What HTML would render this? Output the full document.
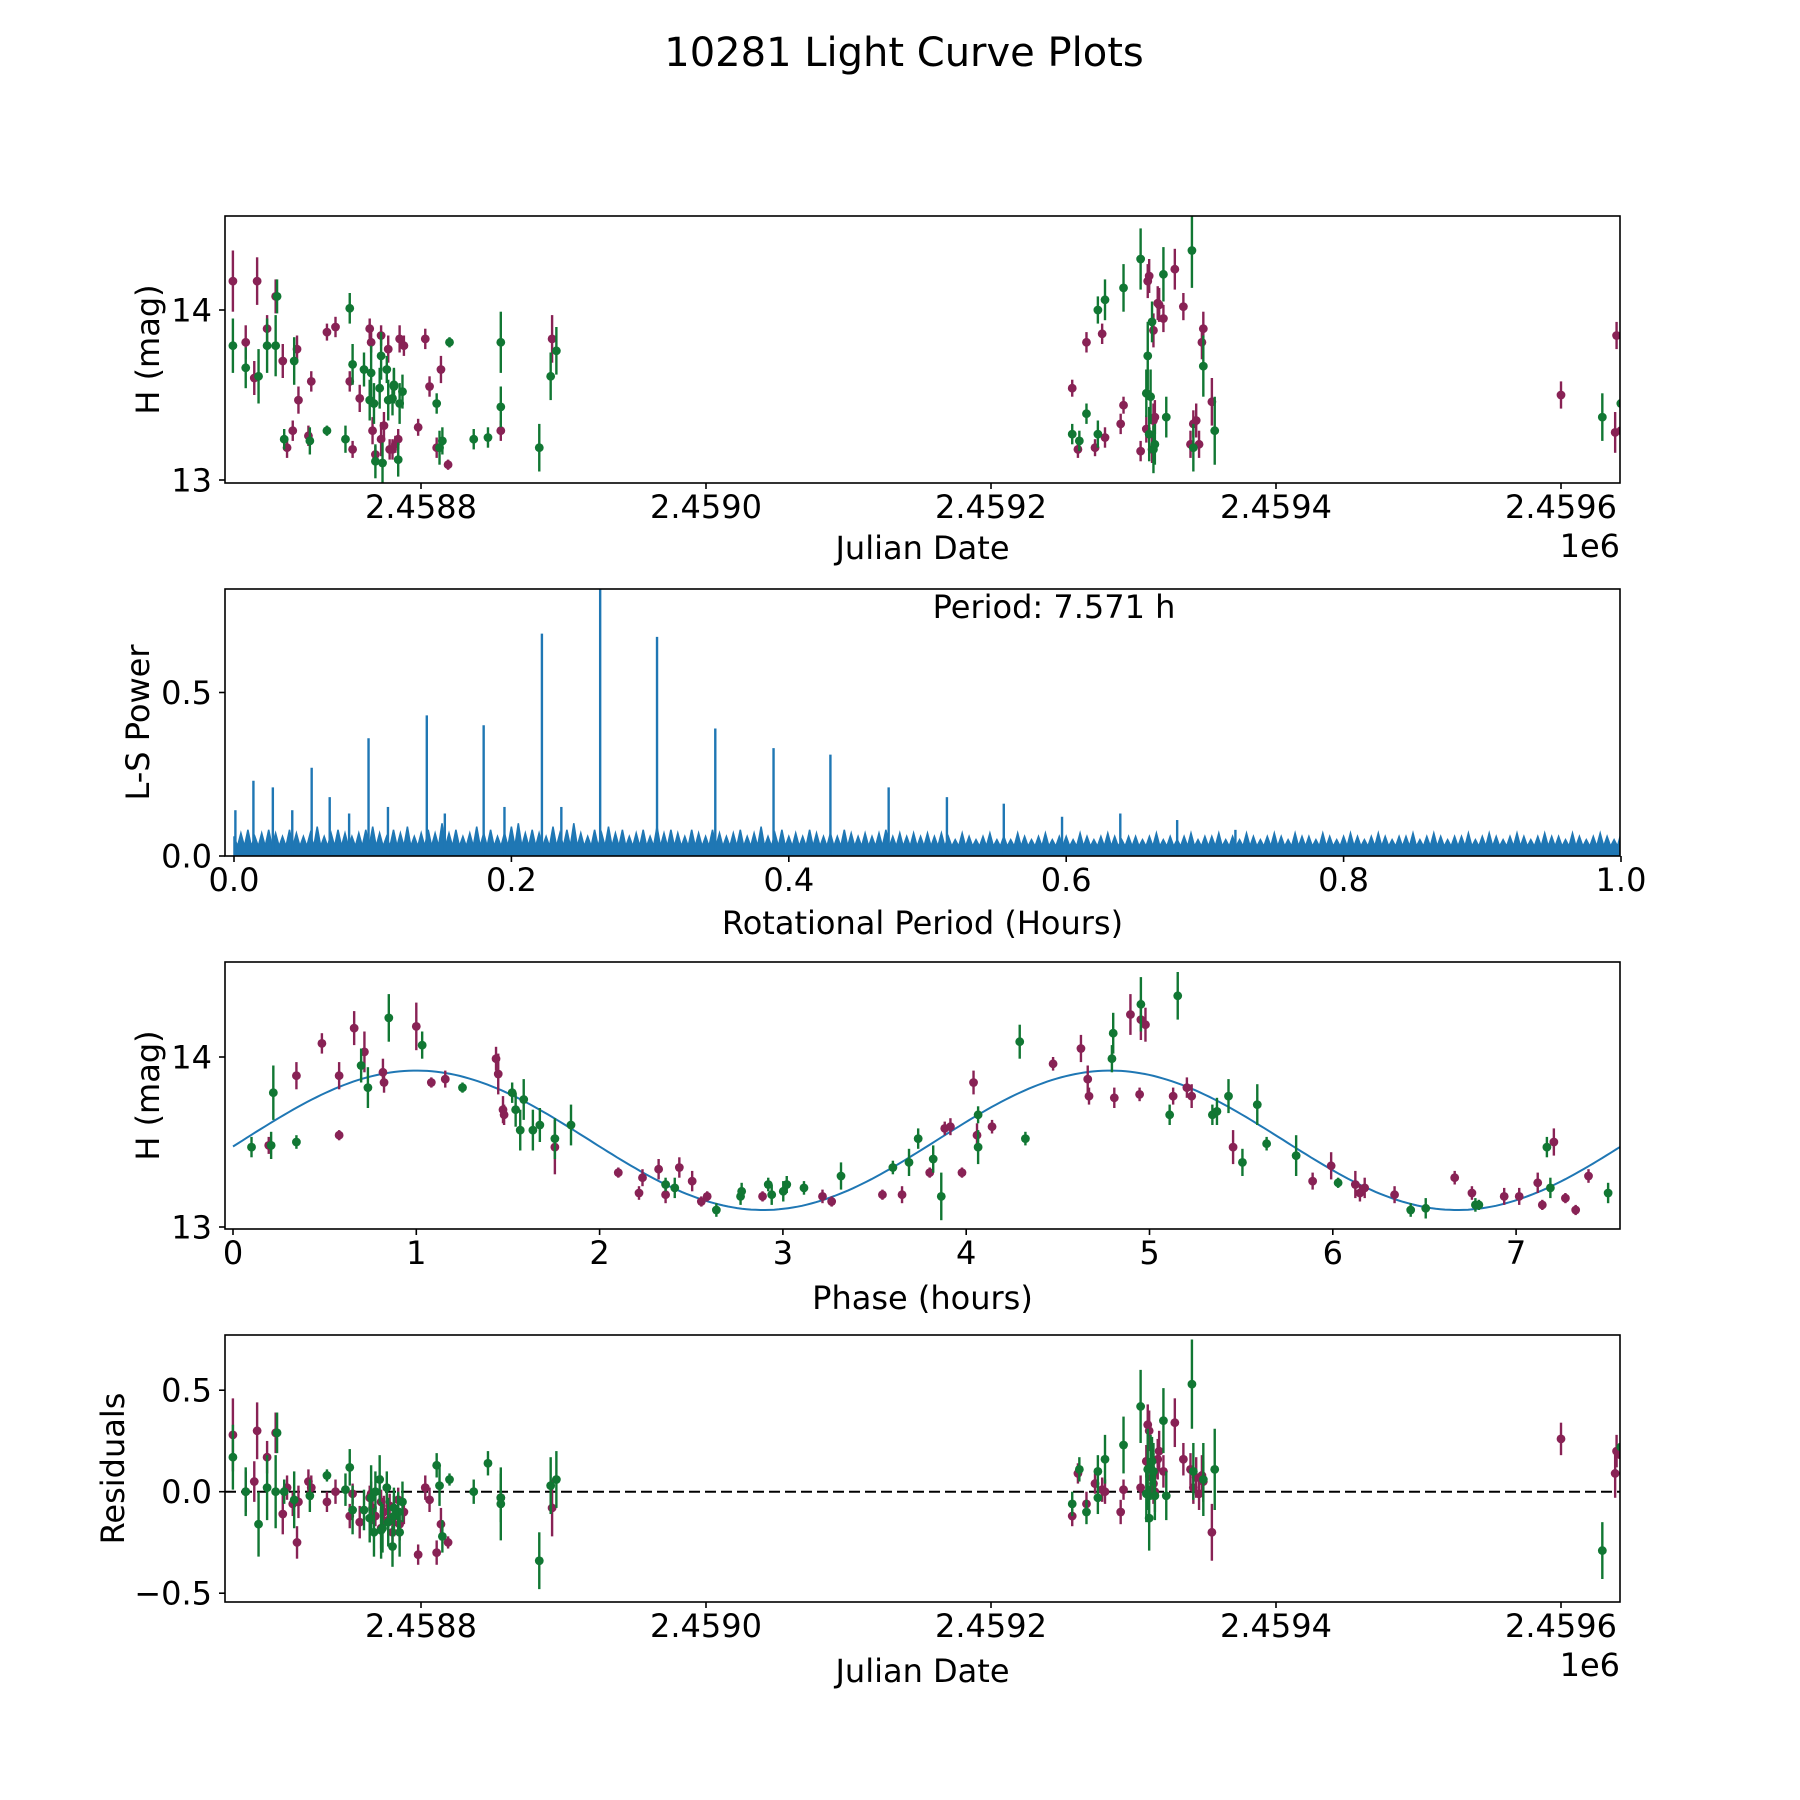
<!DOCTYPE html>
<html><head><meta charset="utf-8"><title>10281 Light Curve Plots</title>
<style>
html,body{margin:0;padding:0;background:#fff;}
svg{display:block;font-family:"DejaVu Sans","Liberation Sans",sans-serif;}
</style></head>
<body>
<svg id="fig" width="1800" height="1800" viewBox="0 0 1800 1800" xmlns="http://www.w3.org/2000/svg">
<rect x="0" y="0" width="1800" height="1800" fill="#fff"/>
<text x="904" y="66" font-size="40" text-anchor="middle">10281 Light Curve Plots</text>
</svg>
<script>
// ---------- DATA (JD given as offset from 2458000) ----------
const JD_OFFSET = 2458000;
const magJd = [668,677,683,685,692,698,703,706,710,713,714,721,723,734,740,750,752,757,764,765,766,768,772,772,774,777,778,780,782,784,785,788,798,803,806,811,814,819,856,892,
1257,1261,1267,1273,1278,1280,1291,1293,1305,1309,1310,1311,1313,1314,1314,1315,1317,1318,1321,1329,1335,1340,1342,1344,1346,1348,1349,1355,
1600,1638,1639,1642];
const magH = [14.17,13.81,13.60,14.17,13.89,14.08,13.70,13.19,13.29,13.77,13.47,13.26,13.58,13.87,13.90,13.58,13.18,13.48,13.89,13.81,13.29,13.15,13.85,13.24,13.32,13.77,13.18,13.18,13.21,13.24,13.83,13.79,13.31,13.83,13.55,13.19,13.65,13.09,13.29,13.83,
13.54,13.18,13.81,13.19,13.86,13.25,13.33,13.44,13.17,13.30,14.17,14.20,13.18,13.35,13.88,13.37,14.04,14.03,13.95,14.24,14.02,13.21,13.33,13.35,13.21,13.81,13.89,13.46,
13.50,13.28,13.85,13.29];
const magErr = [0.18,0.1,0.1,0.14,0.08,0.1,0.1,0.06,0.06,0.08,0.08,0.06,0.06,0.05,0.06,0.06,0.05,0.08,0.06,0.06,0.08,0.05,0.06,0.1,0.08,0.08,0.06,0.06,0.05,0.06,0.08,0.06,0.05,0.06,0.06,0.06,0.08,0.03,0.06,0.14,
0.05,0.05,0.06,0.05,0.06,0.06,0.06,0.05,0.06,0.08,0.1,0.1,0.08,0.1,0.1,0.1,0.1,0.1,0.08,0.12,0.08,0.08,0.08,0.1,0.08,0.1,0.1,0.14,
0.08,0.12,0.08,0.06];
const magRes = [0.28,0.0,0.05,0.30,0.17,0.29,-0.11,0.02,-0.06,-0.25,-0.05,0.05,0.02,-0.05,0.0,-0.12,-0.01,-0.15,-0.03,-0.01,-0.08,-0.12,-0.05,-0.18,-0.1,-0.14,-0.07,-0.2,-0.12,-0.04,-0.16,-0.1,-0.31,0.02,-0.04,-0.3,-0.16,-0.25,-0.03,-0.08,
-0.12,0.09,-0.06,0.04,0.01,0.0,-0.1,0.01,0.02,0.15,0.33,0.3,0.07,0.09,0.04,0.0,0.16,0.2,0.1,0.34,0.16,0.11,0.02,0.07,-0.01,0.08,0.05,-0.2,
0.26,0.09,0.2,0.18];

const grnJd = [668,677,686,692,698,699,704,711,722,734,747,750,752,760,764,765,767,768,771,772,773,776,777,780,781,781,784,785,787,811,813,815,820,837,847,856,856,883,891,895,
1257,1262,1267,1275,1275,1280,1293,1305,1309,1310,1311,1312,1313,1314,1315,1321,1323,1341,1342,1349,1357,
1629,1642];
const grnH = [13.79,13.66,13.61,13.79,13.79,14.08,13.24,13.70,13.23,13.29,13.24,14.01,13.68,13.65,13.47,13.63,13.45,13.11,13.54,13.73,13.10,13.65,13.47,13.48,13.55,13.56,13.12,13.45,13.52,13.45,13.19,13.23,13.81,13.24,13.25,13.43,13.81,13.19,13.61,13.76,
13.27,13.23,13.39,13.27,14.00,14.06,14.13,14.30,13.51,13.73,13.27,13.49,13.93,13.18,13.21,14.21,13.37,14.35,13.19,13.67,13.29,
13.37,13.45];
const grnErr = [0.16,0.12,0.16,0.16,0.18,0.1,0.06,0.14,0.08,0.03,0.08,0.09,0.12,0.1,0.12,0.16,0.12,0.1,0.12,0.14,0.12,0.08,0.12,0.1,0.1,0.1,0.1,0.12,0.1,0.06,0.1,0.08,0.03,0.06,0.06,0.12,0.18,0.14,0.14,0.14,
0.06,0.06,0.06,0.08,0.08,0.12,0.14,0.18,0.14,0.2,0.16,0.16,0.12,0.14,0.12,0.16,0.12,0.22,0.14,0.18,0.2,
0.14,0.1];
const grnRes = [0.17,0.0,-0.16,0.02,0.0,0.29,0.0,-0.04,-0.02,0.08,0.01,0.12,-0.09,-0.09,-0.13,-0.03,-0.2,0.0,0.06,-0.19,-0.18,0.02,-0.15,-0.27,-0.08,-0.12,-0.1,-0.2,-0.05,0.13,0.03,-0.22,0.06,0.0,0.14,-0.03,-0.06,-0.34,0.03,0.06,
-0.06,0.11,-0.1,-0.03,0.1,0.16,0.23,0.42,-0.01,0.11,-0.13,0.12,0.15,0.1,-0.02,0.35,-0.02,0.53,0.1,0.06,0.11,
-0.29,0.22];

// Phase-folded light curve
const magPhase = [0.195,0.346,0.485,0.579,0.579,0.661,0.717,0.824,0.818,1.0,1.082,1.158,1.435,1.447,1.473,1.479,1.756,2.102,2.215,2.234,2.322,2.36,2.435,2.505,2.555,2.587,2.889,3.216,3.266,3.543,3.65,3.801,3.883,3.914,3.977,4.04,4.059,4.141,4.474,4.626,4.67,4.663,4.808,4.896,4.946,4.953,4.978,5.129,5.204,5.23,5.456,5.89,5.991,6.123,6.148,6.174,6.337,6.665,6.759,6.935,7.017,7.118,7.143,7.206,7.269,7.325,7.395];
const magPhaseH = [13.48,13.89,14.08,13.89,13.54,14.17,14.03,13.85,13.91,14.18,13.85,13.87,13.99,13.90,13.69,13.66,13.47,13.32,13.20,13.29,13.34,13.19,13.35,13.27,13.15,13.18,13.18,13.18,13.15,13.19,13.19,13.32,13.58,13.59,13.32,13.85,13.54,13.59,13.96,14.05,13.77,13.87,13.76,14.25,13.78,14.22,14.19,13.77,13.82,13.77,13.47,13.27,13.36,13.25,13.20,13.23,13.19,13.29,13.20,13.18,13.18,13.26,13.13,13.50,13.17,13.10,13.30];
const magPhaseErr = [0.05,0.08,0.06,0.08,0.03,0.1,0.12,0.06,0.08,0.14,0.03,0.05,0.07,0.12,0.08,0.06,0.16,0.03,0.04,0.05,0.06,0.05,0.06,0.06,0.03,0.03,0.03,0.04,0.03,0.03,0.05,0.03,0.04,0.05,0.03,0.07,0.07,0.04,0.04,0.08,0.05,0.08,0.06,0.12,0.04,0.12,0.1,0.05,0.06,0.07,0.1,0.05,0.08,0.08,0.05,0.06,0.05,0.04,0.04,0.05,0.05,0.06,0.03,0.08,0.03,0.03,0.04];
const grnPhase = [0.101,0.208,0.22,0.346,0.699,0.736,0.85,1.032,1.252,1.523,1.542,1.567,1.586,1.636,1.674,1.756,1.844,2.36,2.41,2.637,2.769,2.775,2.92,2.939,3.002,3.021,3.115,3.317,3.6,3.688,3.738,3.82,3.864,4.065,4.065,4.292,4.323,4.795,4.802,4.953,5.11,5.154,5.343,5.368,5.431,5.507,5.588,5.639,5.8,6.029,6.425,6.507,6.778,6.797,7.168,7.187,7.502];
const grnPhaseH = [13.47,13.48,13.79,13.50,13.95,13.82,14.23,14.07,13.82,13.79,13.69,13.57,13.75,13.57,13.60,13.52,13.60,13.25,13.23,13.10,13.18,13.21,13.25,13.19,13.21,13.25,13.23,13.30,13.35,13.38,13.52,13.40,13.18,13.47,13.66,14.09,13.52,13.99,14.14,14.31,13.66,14.36,13.66,13.68,13.77,13.38,13.72,13.49,13.42,13.26,13.10,13.11,13.13,13.13,13.47,13.23,13.20];
const grnPhaseErr = [0.06,0.08,0.16,0.04,0.1,0.12,0.14,0.08,0.03,0.06,0.1,0.12,0.12,0.12,0.1,0.12,0.12,0.04,0.06,0.04,0.05,0.05,0.04,0.06,0.06,0.05,0.04,0.08,0.04,0.08,0.06,0.08,0.14,0.1,0.05,0.1,0.04,0.08,0.12,0.16,0.06,0.14,0.06,0.08,0.1,0.08,0.12,0.04,0.12,0.03,0.04,0.06,0.04,0.03,0.06,0.06,0.06];

// Sinusoidal fit parameters
const fitMean = 13.51, fitAmp = 0.41, fitPeak = 1.0, fitHalfPeriod = 3.7855, foldPeriod = 7.571;

// Lomb-Scargle periodogram
const peakPeriods = [0.001,0.014,0.028,0.042,0.056,0.069,0.083,0.097,0.111,0.139,0.152,0.180,0.195,0.222,0.236,0.264,0.305,0.347,0.389,0.430,0.472,0.514,0.555,0.597,0.639,0.680,0.722];
const peakPowers = [0.14,0.23,0.21,0.14,0.27,0.18,0.13,0.36,0.15,0.43,0.13,0.40,0.15,0.68,0.15,0.85,0.67,0.39,0.33,0.31,0.21,0.18,0.16,0.12,0.13,0.11,0.08];
const noiseStep = 0.005;
const noisePowers = [0.06,0.07,0.08,0.06,0.07,0.08,0.07,0.06,0.08,0.07,0.06,0.07,0.09,0.06,0.07,0.08,0.07,0.06,0.07,0.08,0.09,0.07,0.06,0.08,0.07,0.09,0.06,0.07,0.08,0.07,0.10,0.07,0.08,0.06,0.07,0.09,0.07,0.08,0.06,0.07,0.09,0.10,0.07,0.08,0.07,0.06,0.09,0.07,0.08,0.10,0.07,
0.06,0.08,0.07,0.09,0.07,0.08,0.06,0.07,0.08,0.06,0.09,0.07,0.08,0.07,0.06,0.08,0.07,0.06,0.08,0.07,0.06,0.07,0.08,0.06,0.07,0.09,0.06,0.07,0.08,0.06,0.07,0.06,0.08,0.07,0.06,0.07,0.06,0.08,0.07,0.06,0.07,0.06,0.07,0.08,0.06,0.07,0.06,0.07,0.06,0.07,
0.06,0.07,0.06,0.05,0.07,0.06,0.05,0.06,0.07,0.05,0.06,0.05,0.07,0.06,0.05,0.06,0.07,0.05,0.06,0.06,0.05,0.07,0.06,0.05,0.06,0.07,0.06,0.05,0.06,0.06,0.05,0.06,0.07,0.05,0.06,0.05,0.06,0.07,0.05,0.06,0.06,0.07,0.05,0.06,0.05,0.07,0.06,0.05,0.06,0.07,
0.06,0.05,0.07,0.06,0.06,0.05,0.07,0.06,0.05,0.06,0.07,0.06,0.05,0.06,0.07,0.06,0.05,0.06,0.06,0.07,0.05,0.06,0.07,0.06,0.05,0.06,0.06,0.07,0.05,0.06,0.07,0.06,0.05,0.06,0.07,0.06,0.05,0.06,0.07,0.06,0.06,0.05,0.07,0.06,0.05,0.06,0.07,0.06,0.05,0.07];
const noiseFloor = 0.03;

// Tick labels
const jdTicks = [2458800,2459000,2459200,2459400,2459600];
const jdTickLabels = ["2.4588","2.4590","2.4592","2.4594","2.4596"];
const magTicks = [13,14];
const lsXTicks = [0,0.2,0.4,0.6,0.8,1.0];
const lsXTickLabels = ["0.0","0.2","0.4","0.6","0.8","1.0"];
const lsYTicks = [0,0.5];
const lsYTickLabels = ["0.0","0.5"];
const phaseTicks = [0,1,2,3,4,5,6,7];
const resTicks = [-0.5,0,0.5];
const resTickLabels = ["\u22120.5","0.0","0.5"];

// ---------- RENDER ----------
const NS = "http://www.w3.org/2000/svg";
const svg = document.getElementById("fig");
const MAG = "#882255", GRN = "#117733", BLUE = "#1f77b4";
const L = 225, R = 1620;
const panels = [{top:216,bot:483},{top:589,bot:856},{top:962,bot:1229},{top:1335,bot:1602}];

function mk(tag, attrs, parent){
  const e = document.createElementNS(NS, tag);
  for (const k in attrs) e.setAttribute(k, attrs[k]);
  (parent||svg).appendChild(e);
  return e;
}
// scales
const xJD = jd => 421 + ((jd + JD_OFFSET) - 2458800) * 285 / 200;
const yMag1 = m => 480 - (m - 13) * 170;
const xLS = p => 234 + p * 1387;
const yLS = v => 856 - v * 327;
const xPh = h => 233 + h * 183.3;
const yMag3 = m => 1227 - (m - 13) * 170;
const yRes = r => 1491.7 - r * 203;

// clip paths
const defs = mk("defs", {});
panels.forEach((p, i) => {
  const cp = mk("clipPath", {id: "clip" + i}, defs);
  mk("rect", {x: L, y: p.top, width: R - L, height: p.bot - p.top}, cp);
});

function frame(i, name){
  const p = panels[i];
  const r = mk("rect", {x: L, y: p.top, width: R - L, height: p.bot - p.top, fill: "none", stroke: "#000", "stroke-width": 1.6});
  
  
}
function xTick(i, x, label, name){
  const p = panels[i];
  const t = mk("line", {x1: x, x2: x, y1: p.bot, y2: p.bot + 6, stroke: "#000", "stroke-width": 1.6});
  
  
  const tx = mk("text", {x: x, y: p.bot + 35, "font-size": 32, "text-anchor": "middle"});
  tx.textContent = label;
  
  
}
function yTick(y, label, name){
  const t = mk("line", {x1: L - 6, x2: L, y1: y, y2: y, stroke: "#000", "stroke-width": 1.6});
  
  
  const tx = mk("text", {x: 212, y: y + 11.5, "font-size": 32, "text-anchor": "end"});
  tx.textContent = label;
  
  
}
function xLabel(i, label, name, dy){
  const tx = mk("text", {x: (L + R) / 2, y: panels[i].bot + dy, "font-size": 32, "text-anchor": "middle"});
  tx.textContent = label;
  
  
}
function yLabel(i, label, name, x){
  const cy = (panels[i].top + panels[i].bot) / 2;
  const tx = mk("text", {x: x, y: cy, "font-size": 32, "text-anchor": "middle", transform: "rotate(-90 " + x + " " + cy + ")"});
  tx.textContent = label;
  
  
}
function errPoints(i, xs, ys, es, xf, yf, color, name){
  const g = mk("g", {"clip-path": "url(#clip" + i + ")"});
  
  
  for (let k = 0; k < xs.length; k++){
    const e = (es[k] !== undefined) ? es[k] : 0.08;
    const x = xf(xs[k]), y = yf(ys[k]);
    const bar = mk("line", {x1: x, x2: x, y1: yf(ys[k] - e), y2: yf(ys[k] + e), stroke: color, "stroke-width": 2.4}, g);
    
    
    const c = mk("circle", {cx: x, cy: y, r: 4.4, fill: color}, g);
    
    
  }
}

// ===== Panel 1: raw light curve =====
errPoints(0, magJd, magH, magErr, xJD, yMag1, MAG, "raw-series-magenta");
errPoints(0, grnJd, grnH, grnErr, xJD, yMag1, GRN, "raw-series-green");
frame(0, "raw-lightcurve-axes");
jdTicks.forEach((t, k) => xTick(0, xJD(t - JD_OFFSET), jdTickLabels[k], "raw-x"));
magTicks.forEach(t => yTick(yMag1(t), String(t), "raw-y"));
xLabel(0, "Julian Date", "raw-x-axis-title", 76);
(function(){ const t = mk("text", {x: R, y: 557, "font-size": 32, "text-anchor": "end"}); t.textContent = "1e6";
    })();
yLabel(0, "H (mag)", "raw-y-axis-title", 159);

// ===== Panel 2: periodogram =====
(function(){
  const g = mk("g", {"clip-path": "url(#clip1)"});
  
  
  let d = "M" + xLS(0) + "," + yLS(0);
  for (let k = 0; k < noisePowers.length; k++){
    const p = k * noiseStep;
    d += " L" + xLS(p).toFixed(1) + "," + yLS(noisePowers[k]).toFixed(1);
    d += " L" + xLS(p + noiseStep / 2).toFixed(1) + "," + yLS(noiseFloor).toFixed(1);
  }
  d += " L" + xLS(1) + "," + yLS(0) + " Z";
  const area = mk("path", {d: d, fill: BLUE, stroke: BLUE, "stroke-width": 1.5, "stroke-linejoin": "miter"}, g);
  
  
  for (let k = 0; k < peakPeriods.length; k++){
    const x = xLS(peakPeriods[k]);
    const s = mk("line", {x1: x, x2: x, y1: yLS(0), y2: yLS(peakPowers[k]), stroke: BLUE, "stroke-width": 2.4}, g);
    
    
  }
})();
frame(1, "periodogram-axes");
lsXTicks.forEach((t, k) => xTick(1, xLS(t), lsXTickLabels[k], "periodogram-x"));
lsYTicks.forEach((t, k) => yTick(yLS(t), lsYTickLabels[k], "periodogram-y"));
xLabel(1, "Rotational Period (Hours)", "periodogram-x-axis-title", 78);
yLabel(1, "L-S Power", "periodogram-y-axis-title", 149);
(function(){ const t = mk("text", {x: 1054, y: 618, "font-size": 32, "text-anchor": "middle"}); t.textContent = "Period: " + foldPeriod.toFixed(3) + " h";
    })();

// ===== Panel 3: phase-folded =====
(function(){
  const g = mk("g", {"clip-path": "url(#clip2)"});
  
  
  let d = "";
  const n = 300;
  for (let k = 0; k <= n; k++){
    const h = foldPeriod * k / n;
    const m = fitMean + fitAmp * Math.cos(2 * Math.PI * (h - fitPeak) / fitHalfPeriod);
    d += (k ? " L" : "M") + xPh(h).toFixed(1) + "," + yMag3(m).toFixed(1);
  }
  const c = mk("path", {d: d, fill: "none", stroke: BLUE, "stroke-width": 2}, g);
  
  
})();
errPoints(2, magPhase, magPhaseH, magPhaseErr, xPh, yMag3, MAG, "phase-series-magenta");
errPoints(2, grnPhase, grnPhaseH, grnPhaseErr, xPh, yMag3, GRN, "phase-series-green");
frame(2, "phase-axes");
phaseTicks.forEach(t => xTick(2, xPh(t), String(t), "phase-x"));
magTicks.forEach(t => yTick(yMag3(t), String(t), "phase-y"));
xLabel(2, "Phase (hours)", "phase-x-axis-title", 80);
yLabel(2, "H (mag)", "phase-y-axis-title", 159);

// ===== Panel 4: residuals =====
(function(){
  const z = mk("line", {x1: L, x2: R, y1: yRes(0), y2: yRes(0), stroke: "#000", "stroke-width": 2, "stroke-dasharray": "11 5"});
  
  
})();
errPoints(3, magJd, magRes, magErr, xJD, yRes, MAG, "residual-series-magenta");
errPoints(3, grnJd, grnRes, grnErr, xJD, yRes, GRN, "residual-series-green");
frame(3, "residual-axes");
jdTicks.forEach((t, k) => xTick(3, xJD(t - JD_OFFSET), jdTickLabels[k], "residual-x"));
resTicks.forEach((t, k) => yTick(yRes(t), resTickLabels[k], "residual-y"));
xLabel(3, "Julian Date", "residual-x-axis-title", 80);
(function(){ const t = mk("text", {x: R, y: 1676, "font-size": 32, "text-anchor": "end"}); t.textContent = "1e6";
    })();
yLabel(3, "Residuals", "residual-y-axis-title", 124);
</script>
</body></html>
